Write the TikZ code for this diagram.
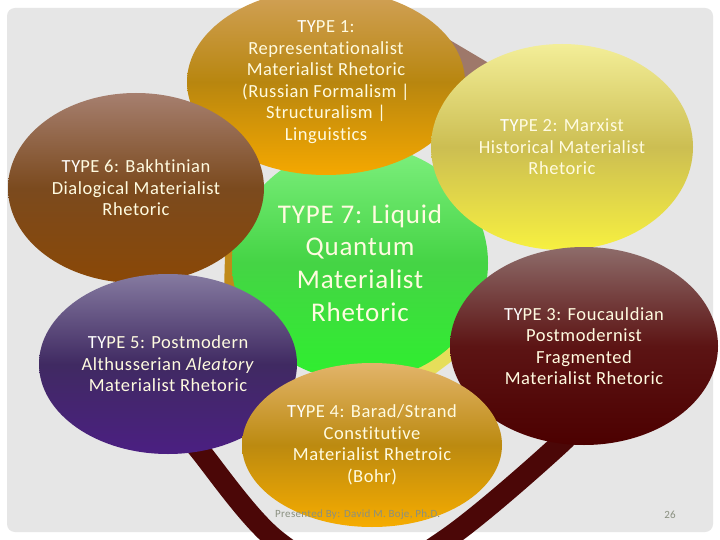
\documentclass[tikz,border=0pt]{standalone}
\usepackage{fontspec}
\setmainfont{Carlito}[LetterSpace=3, Ligatures={NoCommon}]
\usetikzlibrary{shapes.geometric}
\definecolor{bggray}{HTML}{E6E6E6}
\definecolor{txtcol}{HTML}{FFFBE0}
\definecolor{bandbrown}{HTML}{9E786A}
\definecolor{bandmaroon}{HTML}{4B0707}
\definecolor{bandorange}{HTML}{C08A1A}
\definecolor{bandyellow}{HTML}{E6DE5A}
\definecolor{footgray}{HTML}{8A9080}
\tikzset{
  bub/.style={ellipse, inner sep=0pt, align=center, text=txtcol,
    font=\fontsize{18.5}{21.5}\selectfont},
  band/.style={line width=#1, line cap=butt},
  foot/.style={text=footgray, font=\fontsize{11}{13}\selectfont, inner sep=0pt}
}
\newcommand{\TY}{\textcolor{white}{TY}}
\begin{document}
\begin{tikzpicture}[x=1pt,y=-1pt]
\useasboundingbox (0,0) rectangle (720,540);
\fill[white] (0,0) rectangle (720,540);
\fill[bggray, rounded corners=8pt] (7,8) rectangle (713,532);
\begin{scope}
\clip (0,0) rectangle (720,540);
% ring bands (mostly hidden)
\draw[bandmaroon, band=21pt] plot[smooth, tension=0.6] coordinates
  {(176,420) (197,447) (276,540) (362,578) (445,540) (561,443) (575,420)};
\coordinate (b1s) at (400,28);
\coordinate (b1e) at (520,99);
\draw[bandbrown, band=30pt] (b1s) -- (b1e);
\coordinate (b2s) at (240,180);
\coordinate (b2e) at (236,330);
\draw[bandorange, band=26pt] (b2s) -- (b2e);
\coordinate (b3s) at (520,300);
\coordinate (b3e) at (400,390);
\draw[bandyellow, band=16pt] (b3s) -- (b3e);
\end{scope}
% central node
\node[bub, minimum width=256pt, minimum height=236pt,
  top color={rgb,255:red,127;green,240;blue,127}, bottom color={rgb,255:red,46;green,240;blue,46},
  middle color={rgb,255:red,69;green,212;blue,69},
  font=\fontsize{27}{32.7}\selectfont] (t7) at (360,263)
  {TYPE 7: Liquid\\Quantum\\Materialist\\Rhetoric};
% outer nodes
\node[bub, minimum width=278pt, minimum height=186pt,
  top color={rgb,255:red,210;green,162;blue,90}, bottom color={rgb,255:red,245;green,168;blue,0},
  middle color={rgb,255:red,184;green,134;blue,15}] (t1) at (326,82)
  {\TY PE 1:\\Representationalist\\Materialist Rhetoric\\(Russian Formalism |\\Structuralism |\\Linguistics};
\node[bub, minimum width=262pt, minimum height=206pt,
  top color={rgb,255:red,243;green,238;blue,152}, bottom color={rgb,255:red,247;green,240;blue,64},
  middle color={rgb,255:red,204;green,190;blue,82}] (t2) at (562,147)
  {\TY PE 2: Marxist\\Historical Materialist\\Rhetoric};
\node[bub, minimum width=268pt, minimum height=198pt,
  top color={rgb,255:red,142;green,108;blue,106}, bottom color={rgb,255:red,76;green,0;blue,0},
  middle color={rgb,255:red,92;green,20;blue,20}] (t3) at (584,346)
  {\TY PE 3: Foucauldian\\Postmodernist\\Fragmented\\Materialist Rhetoric};
\node[bub, minimum width=256pt, minimum height=190pt,
  top color={rgb,255:red,166;green,127;blue,111}, bottom color={rgb,255:red,138;green,72;blue,6},
  middle color={rgb,255:red,123;green,74;blue,30}] (t6) at (136,188)
  {\TY PE 6: Bakhtinian\\Dialogical Materialist\\Rhetoric};
\node[bub, minimum width=258pt, minimum height=180pt,
  top color={rgb,255:red,133;green,122;blue,160}, bottom color={rgb,255:red,75;green,31;blue,130},
  middle color={rgb,255:red,64;green,42;blue,98}] (t5) at (168,364)
  {\TY PE 5: Postmodern\\Althusserian \textit{Aleatory}\\Materialist Rhetoric};
\node[bub, minimum width=260pt, minimum height=164pt,
  top color={rgb,255:red,226;green,180;blue,106}, bottom color={rgb,255:red,246;green,172;blue,0},
  middle color={rgb,255:red,188;green,138;blue,16}] (t4) at (372,445)
  {\TY PE 4: Barad/Strand\\Constitutive\\Materialist Rhetroic\\(Bohr)};
% footer
\node[foot, anchor=west] (pres) at (275,515) {Presented By: David M. Boje, Ph.D.};
\node[foot] (pg) at (670,515) {26};
\end{tikzpicture}
\end{document}
